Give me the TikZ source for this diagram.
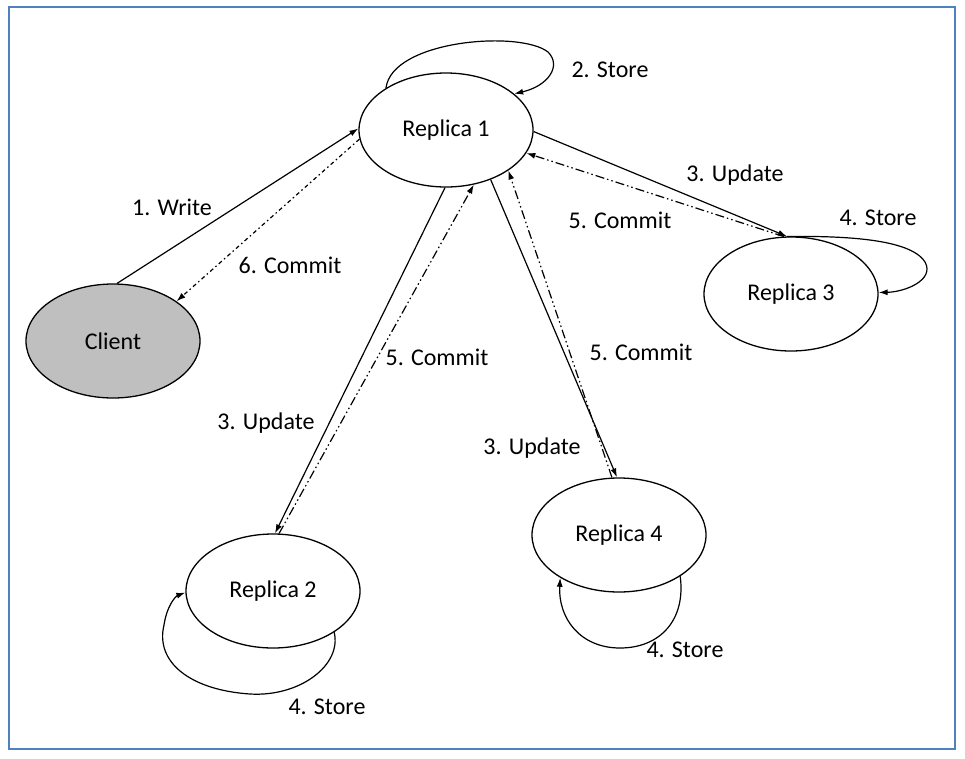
\documentclass[tikz,border=0pt]{standalone}
\usepackage{fontspec}
\setmainfont{Carlito}
\usetikzlibrary{shapes.geometric,arrows.meta}
\definecolor{framecol}{HTML}{4F81BD}
\definecolor{clientfill}{HTML}{BFBFBF}
\begin{document}
\begin{tikzpicture}[x=1pt,y=-1pt,
  every node/.style={font=\fontsize{24}{28}\selectfont},
  repl/.style={ellipse,draw=black,line width=1.3pt,minimum width=174pt,minimum height=114pt,inner sep=0pt},
  conn/.style={line width=1.2pt,-{Latex[length=9pt,width=6pt]}},
  dashdotdot/.style={conn,dash pattern=on 9pt off 3pt on 1.5pt off 3pt on 1.5pt off 3pt},
  dashdotshort/.style={conn,dash pattern=on 4pt off 3pt on 1.5pt off 3pt},
  lbl/.style={inner sep=0pt}]
\useasboundingbox (0,0) rectangle (965,758);
\draw[framecol,line width=2.5pt] (9,7) rectangle (955,749);

\node[repl] (r1) at (446,130) {Replica 1};
\node[repl,fill=clientfill] (cl) at (113,341) {Client};
\node[repl] (r3) at (791,294) {Replica 3};
\node[repl] (r2) at (273,591) {Replica 2};
\node[repl] (r4) at (619,535) {Replica 4};

% 1. Write / 6. Commit
\draw[conn] (cl.86) -- (r1.179);
\draw[dashdotshort] (r1.186) -- (cl.32);
% 2. Store loop
\draw[conn] (r1.145) .. controls (392,40) and (520,30) .. (548,52) .. controls (562,66) and (548,86) .. (r1.28);
% Replica 3
\draw[conn] (r1.-1) -- (r3.94);
\draw[dashdotdot] (r3.97) -- (r1.-16);
\draw[conn] (r3.94) .. controls (840,236) and (910,238) .. (925,262) .. controls (935,280) and (905,292) .. (r3.1);
% Replica 2
\draw[conn] (r1.-91) -- (r2.88);
\draw[dashdotdot] (r2.84) -- (r1.-63);
\draw[conn] (r2.-34) .. controls (342,665) and (300,697) .. (250,694) .. controls (190,690) and (155,662) .. (164,625) .. controls (167,605) and (176,596) .. (r2.181);
% Replica 4
\draw[conn] (r1.-48) -- (r4.92);
\draw[dashdotdot] (r4.97) -- (r1.-33);
\draw[conn] (r4.-34) .. controls (686,620) and (660,648) .. (620,648) .. controls (580,648) and (558,618) .. (r4.-144);

% labels
\node[lbl] (l1) at (172,207) {1. Write};
\node[lbl] (l2) at (610,70) {2. Store};
\node[lbl] (l3) at (735,175) {3. Update};
\node[lbl] (l4) at (620,220) {5. Commit};
\node[lbl] (l5) at (878,218) {4. Store};
\node[lbl] (l6) at (290,265) {6. Commit};
\node[lbl] (l7) at (437,357) {5. Commit};
\node[lbl] (l8) at (266,423) {3. Update};
\node[lbl] (l9) at (641,352) {5. Commit};
\node[lbl] (l10) at (532,448) {3. Update};
\node[lbl] (l11) at (327,707) {4. Store};
\node[lbl] (l12) at (685,650) {4. Store};
\end{tikzpicture}
\end{document}
